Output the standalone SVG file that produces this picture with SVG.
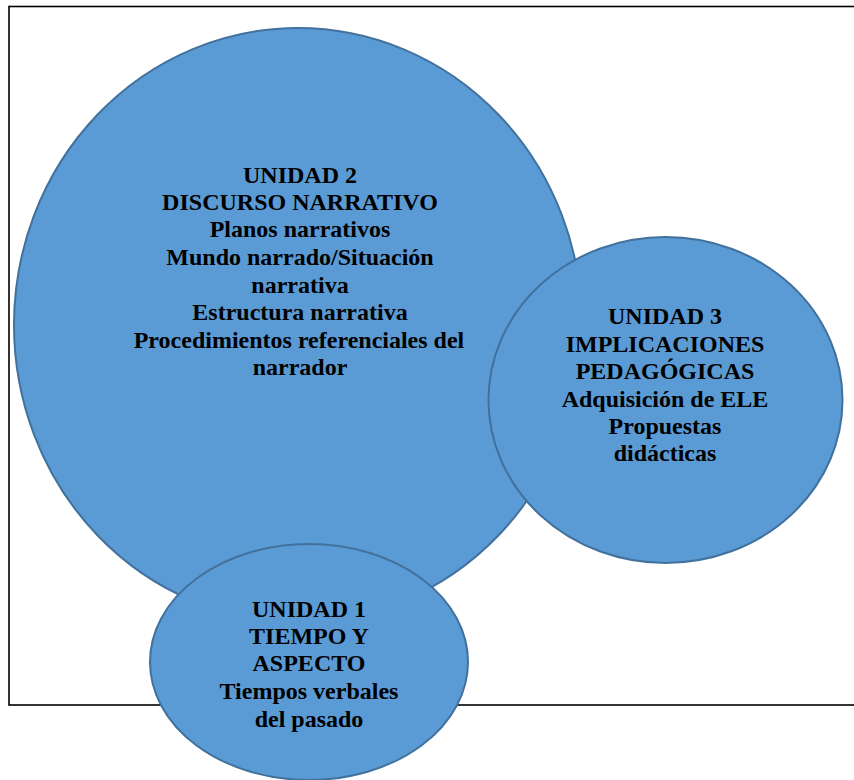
<svg xmlns="http://www.w3.org/2000/svg" width="854" height="780" viewBox="0 0 854 780">
<style>
.bub{fill:#5B9BD5;stroke:#41719C;stroke-width:2}
.t{font-family:"Liberation Serif","Times New Roman",serif;font-weight:bold;font-size:24px;fill:#000;text-anchor:middle}
</style>
<rect width="854" height="780" fill="#fff"/>
<rect x="9" y="6.5" width="900" height="698.5" fill="none" stroke="#000" stroke-width="1.6"/>
<g id="connectors"/>
<g id="unidad2">
<ellipse class="bub" cx="298" cy="325" rx="284" ry="297"/>
<text class="t" x="300" y="182.7">UNIDAD 2</text>
<text class="t" x="300" y="210">DISCURSO NARRATIVO</text>
<text class="t" x="300" y="237.3">Planos narrativos</text>
<text class="t" x="300" y="265">Mundo narrado/Situación</text>
<text class="t" x="300" y="292.7">narrativa</text>
<text class="t" x="300" y="320">Estructura narrativa</text>
<text class="t" x="299" y="347.7">Procedimientos referenciales del</text>
<text class="t" x="300" y="375">narrador</text>
</g>
<g id="unidad3">
<ellipse class="bub" cx="665.5" cy="400" rx="177" ry="163"/>
<text class="t" x="665" y="324">UNIDAD 3</text>
<text class="t" x="665" y="351.7">IMPLICACIONES</text>
<text class="t" x="665" y="379">PEDAGÓGICAS</text>
<text class="t" x="665" y="406.7">Adquisición de ELE</text>
<text class="t" x="665" y="434">Propuestas</text>
<text class="t" x="665" y="460.7">didácticas</text>
</g>
<g id="unidad1">
<ellipse class="bub" cx="309" cy="662" rx="159" ry="118"/>
<text class="t" x="309" y="617.3">UNIDAD 1</text>
<text class="t" x="309" y="643.5">TIEMPO Y</text>
<text class="t" x="309" y="671">ASPECTO</text>
<text class="t" x="309" y="698.5">Tiempos verbales</text>
<text class="t" x="309" y="726.5">del pasado</text>
</g>
</svg>
